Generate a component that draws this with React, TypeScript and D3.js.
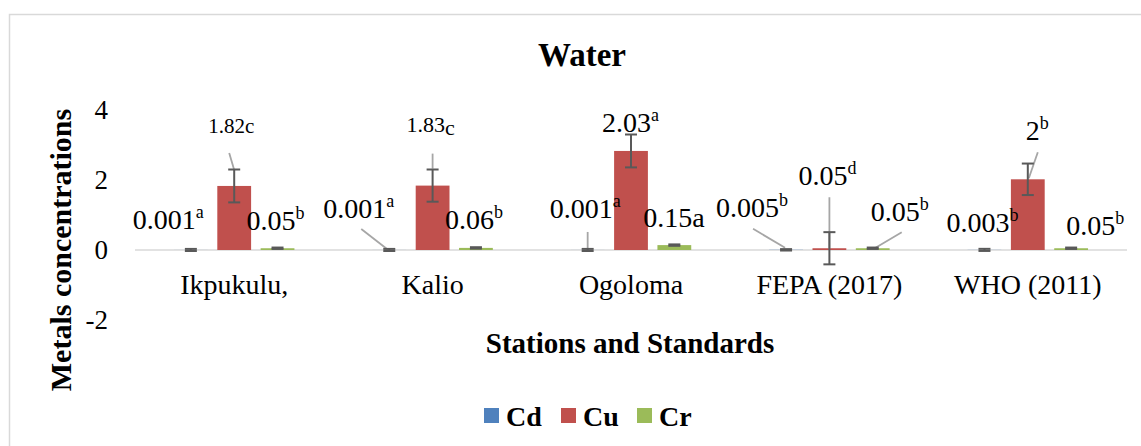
import * as d3 from 'd3';

const categories = ['Ikpukulu,', 'Kalio', 'Ogoloma', 'FEPA (2017)', 'WHO (2011)'];
const seriesNames = ['Cd', 'Cu', 'Cr'];
const seriesColors = ['#4f81bd', '#c0504d', '#9bbb59'];

const cdValues = [0.001, 0.001, 0.001, 0.005, 0.003];
const cuValues = [1.83, 1.84, 2.83, 0.05, 2.02];
const crValues = [0.05, 0.06, 0.14, 0.05, 0.05];

const cdErrors = [0.03, 0.03, 0.03, 0.02, 0.03];
const cuErrors = [0.47, 0.46, 0.47, 0.46, 0.45];
const crErrors = [0.02, 0.02, 0.02, 0.02, 0.02];

const cdLabelMain = ['0.001', '0.001', '0.001', '0.005', '0.003'];
const cdLabelSup = ['a', 'a', 'a', 'b', 'b'];
const cuLabelMain = ['1.82c', '1.83', '2.03', '0.05', '2'];
const cuLabelSup = ['', '', 'a', 'd', 'b'];
const cuLabelSub = ['', 'c', '', '', ''];
const crLabelMain = ['0.05', '0.06', '0.15a', '0.05', '0.05'];
const crLabelSup = ['b', 'b', '', 'b', 'b'];

const yTicks = [-2, 0, 2, 4];

// label placement (dx from bar centre, dy from bar top, font size), per category
const cdLabelPos = [[-58, -21, 28], [-66, -32, 28], [-38, -32, 28], [-70, -33, 28], [-38, -18, 28]];
const cuLabelPos = [[-26, -53, 21], [-26, -54, 22], [-29, -19, 28], [-31, -63, 28], [-2, -39, 28]];
const crLabelPos = [[-31, -18, 28], [-31, -19, 28], [-31, -18, 28], [-2, -27, 28], [-5, -13, 28]];

// leader lines: [category, series, dx1, dy1, dx2, dy2]
const leaders = [
  [0, 1, -5, -33, 0, -16],
  [1, 0, -28, -21, -1, 0],
  [1, 1, 0, -32, 0, -17],
  [2, 0, 0, -18, 0, 0],
  [3, 0, -33, -21, -1, -2],
  [3, 1, 0, -51, 0, 0],
  [3, 2, 29, -16, 2, 0],
  [4, 1, 10, -27, 1, -1],
];

const W = 1141;
const H = 446;
const serif = 'Liberation Serif';

export default function App() {
  const values = [cdValues, cuValues, crValues];
  const errors = [cdErrors, cuErrors, crErrors];
  const mains = [cdLabelMain, cuLabelMain, crLabelMain];
  const sups = [cdLabelSup, cuLabelSup, crLabelSup];
  const subs = [categories.map(() => ''), cuLabelSub, categories.map(() => '')];
  const pos = [cdLabelPos, cuLabelPos, crLabelPos];

  const x0 = d3.scaleBand<string>().domain(categories).range([135, 1127]).padding(0);
  const half = 65;
  const y = d3.scaleLinear().domain([-2, 4]).range([320, 110]);

  const sx = (ci: number) => {
    const c = (x0(categories[ci]) ?? 0) + x0.bandwidth() / 2;
    return d3
      .scaleBand<string>()
      .domain(seriesNames)
      .range([c - half, c + half])
      .paddingInner(0.22)
      .paddingOuter(0.11);
  };
  const centre = (ci: number, si: number) => {
    const s = sx(ci);
    return (s(seriesNames[si]) ?? 0) + s.bandwidth() / 2;
  };

  return (
    <svg width={W} height={H} style={{ position: 'absolute', left: 0, top: 0, background: '#fff' }}>
      <rect x={9.5} y={14.5} width={1200} height={500} fill="#fff" stroke="#d9d9d9" strokeWidth={1.5} />
      <text x={582} y={66} textAnchor="middle" fontSize={33} fontWeight="bold" fontFamily={serif}>Water</text>

      {yTicks.map((t) => (
        <text key={t} x={108} y={y(t)} dy="0.35em" textAnchor="end" fontSize={27} fontFamily={serif}>{t}</text>
      ))}
      <text transform={`translate(71,250) rotate(-90)`} textAnchor="middle" fontSize={30} fontWeight="bold" fontFamily={serif}>
        Metals concentrations
      </text>

      <line x1={135} x2={1127} y1={y(0)} y2={y(0)} stroke="#d9d9d9" strokeWidth={1.5} />

      {categories.map((cat, ci) => {
        const s = sx(ci);
        return (
          <g key={cat}>
            {seriesNames.map((name, si) => {
              const v = values[si][ci];
              const bx = s(name) ?? 0;
              return (
                <rect key={name} x={bx} y={y(Math.max(0, v))} width={s.bandwidth()}
                  height={Math.abs(y(v) - y(0))} fill={seriesColors[si]} />
              );
            })}
          </g>
        );
      })}

      {leaders.map(([ci, si, dx1, dy1, dx2, dy2], i) => {
        const cx = centre(ci, si);
        const cy = y(values[si][ci]);
        return <line key={i} x1={cx + dx1} y1={cy + dy1} x2={cx + dx2} y2={cy + dy2} stroke="#a6a6a6" strokeWidth={1.8} />;
      })}

      {categories.map((cat, ci) => (
        <g key={`e${cat}`}>
          {seriesNames.map((name, si) => {
            const cx = centre(ci, si);
            const v = values[si][ci];
            const e = errors[si][ci];
            const top = y(v + e);
            const bot = y(v - e);
            return (
              <g key={name} stroke="#595959" strokeWidth={2}>
                <line x1={cx} x2={cx} y1={top} y2={bot} />
                <line x1={cx - 6} x2={cx + 6} y1={top} y2={top} />
                <line x1={cx - 6} x2={cx + 6} y1={bot} y2={bot} />
              </g>
            );
          })}
        </g>
      ))}

      {categories.map((cat, ci) => (
        <g key={`l${cat}`}>
          {seriesNames.map((name, si) => {
            const [dx, dy, fs] = pos[si][ci];
            const cx = centre(ci, si);
            const cy = y(values[si][ci]);
            return (
              <text key={name} x={cx + dx} y={cy + dy} fontSize={fs} fontFamily={serif}>
                {mains[si][ci]}
                {sups[si][ci] && <tspan fontSize={18} dy={-11}>{sups[si][ci]}</tspan>}
                {subs[si][ci] && <tspan dy={3}>{subs[si][ci]}</tspan>}
              </text>
            );
          })}
        </g>
      ))}

      {categories.map((cat) => (
        <text key={`c${cat}`} x={(x0(cat) ?? 0) + x0.bandwidth() / 2} y={294} textAnchor="middle" fontSize={28} fontFamily={serif}>
          {cat}
        </text>
      ))}

      <text x={630} y={353} textAnchor="middle" fontSize={29} fontWeight="bold" fontFamily={serif}>Stations and Standards</text>

      {seriesNames.map((name, si) => {
        const lx = [484, 561, 637][si];
        return (
          <g key={`lg${name}`}>
            <rect x={lx} y={408} width={15} height={15} fill={seriesColors[si]} />
            <text x={lx + 22} y={426} fontSize={28} fontWeight="bold" fontFamily={serif}>{name}</text>
          </g>
        );
      })}
    </svg>
  );
}
